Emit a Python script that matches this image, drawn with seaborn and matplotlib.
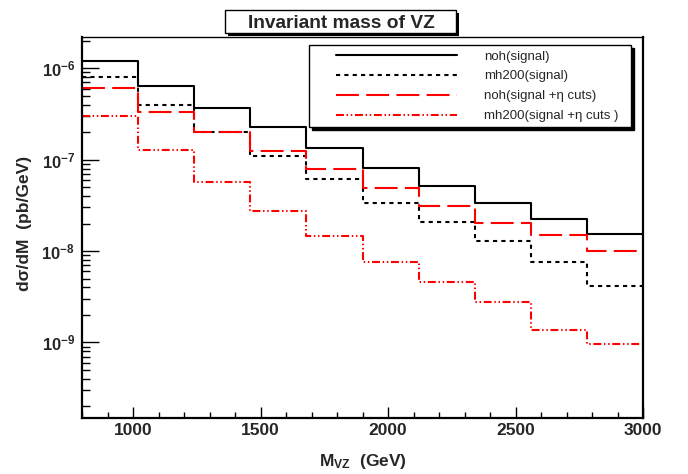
import numpy as np
import pandas as pd
import matplotlib
matplotlib.use("Agg")
import matplotlib.pyplot as plt
import matplotlib.ticker as mticker
from matplotlib.lines import Line2D
from matplotlib.legend_handler import HandlerLine2D
from matplotlib.patches import Rectangle
import seaborn as sns

# bin edges of the M_VZ histograms (GeV)
BIN_EDGES = [800, 1020, 1240, 1460, 1680, 1900, 2120, 2340, 2560, 2780, 3000]

# dsigma/dM per bin (pb/GeV)
NOH_SIGNAL = [1.19e-6, 6.33e-7, 3.71e-7, 2.27e-7, 1.35e-7, 8.1e-8, 5.09e-8, 3.36e-8, 2.26e-8, 1.53e-8]
MH200_SIGNAL = [7.96e-7, 3.94e-7, 2.02e-7, 1.11e-7, 6.12e-8, 3.39e-8, 2.09e-8, 1.28e-8, 7.5e-9, 4.15e-9]
NOH_ETA = [6.02e-7, 3.3e-7, 2.0e-7, 1.26e-7, 7.96e-8, 4.88e-8, 3.11e-8, 2.04e-8, 1.48e-8, 1.01e-8]
MH200_ETA = [2.98e-7, 1.29e-7, 5.72e-8, 2.74e-8, 1.45e-8, 7.5e-9, 4.55e-9, 2.78e-9, 1.38e-9, 9.7e-10]

LABELS = ["noh(signal)", "mh200(signal)", "noh(signal +η cuts)", "mh200(signal +η cuts )"]

sns.set_theme(style="ticks")
plt.rcParams["font.family"] = ["Liberation Sans", "DejaVu Sans"]
plt.rcParams["mathtext.fontset"] = "custom"
plt.rcParams["mathtext.rm"] = "Liberation Sans"
plt.rcParams["mathtext.it"] = "Liberation Sans:italic"
plt.rcParams["mathtext.bf"] = "Liberation Sans:bold"
plt.rcParams["axes.edgecolor"] = "black"

centers = [(a + b) / 2 for a, b in zip(BIN_EDGES[:-1], BIN_EDGES[1:])]
frames = []
for label, vals in zip(LABELS, [NOH_SIGNAL, MH200_SIGNAL, NOH_ETA, MH200_ETA]):
    frames.append(pd.DataFrame({"mass": centers, "xsec": vals, "sample": label}))
df = pd.concat(frames, ignore_index=True)

styles = {
    LABELS[0]: dict(color="black", linestyle="-", lw=1.5),
    LABELS[1]: dict(color="black", linestyle=(0, (2, 2)), lw=1.5),
    LABELS[2]: dict(color="red", linestyle=(0, (11, 3.5)), lw=1.5),
    LABELS[3]: dict(color="red", linestyle=(0, (3.8, 1.3, 0.7, 1.3, 0.7, 1.3)), lw=1.5),
}

fig = plt.figure(figsize=(6.88, 4.74), dpi=100)
ax = fig.add_axes([82 / 688, 1 - 418 / 474, 561 / 688, 381 / 474])

for label in LABELS:
    sns.histplot(data=df[df["sample"] == label], x="mass", weights="xsec",
                 bins=BIN_EDGES, element="step", fill=False, label=label,
                 ax=ax, **styles[label])

ax.set_yscale("log")
ax.set_xlim(800, 3000)
ax.set_ylim(1.49e-10, 2.2e-6)

ax.xaxis.set_major_locator(mticker.MultipleLocator(500))
ax.xaxis.set_minor_locator(mticker.MultipleLocator(100))
ax.yaxis.set_major_locator(mticker.FixedLocator([1e-9, 1e-8, 1e-7, 1e-6]))
ax.yaxis.set_minor_locator(mticker.LogLocator(base=10, subs=np.arange(2, 10), numticks=20))
ax.yaxis.set_major_formatter(mticker.FuncFormatter(
    lambda v, pos: rf"$\mathbf{{10^{{{int(round(np.log10(v)))}}}}}$"))
ax.yaxis.set_minor_formatter(mticker.NullFormatter())

ax.tick_params(axis="both", which="both", direction="in", color="black",
               top=False, right=False, width=1)
ax.tick_params(axis="y", which="major", length=12, pad=5, labelsize=12)
ax.tick_params(axis="y", which="minor", length=6)
ax.tick_params(axis="x", which="major", length=8, pad=3.6, labelsize=12.5)
ax.tick_params(axis="x", which="minor", length=4)
for lab in ax.get_xticklabels():
    lab.set_fontweight("bold")

for side in ["left", "bottom", "right"]:
    ax.spines[side].set_linewidth(1.6)
ax.spines["top"].set_linewidth(1.0)
ax.grid(False)

ax.set_xlabel(r"$\mathbf{M_{VZ}}$  (GeV)", fontsize=12.5, fontweight="bold")
ax.xaxis.set_label_coords(0.5, -0.09)
ax.set_ylabel("dσ/dM  (pb/GeV)", fontsize=12.5, fontweight="bold")
ax.yaxis.set_label_coords(-0.089, 0.51)

handles = [ln for ln in ax.get_lines() if ln.get_label() in LABELS]
leg = ax.legend(handles=handles, labels=LABELS, loc="upper left",
                bbox_to_anchor=(0.405, 0.772, 0.574, 0.207), mode="expand",
                borderaxespad=0, fontsize=9.5, frameon=True, fancybox=False,
                edgecolor="black", framealpha=1, borderpad=0.4,
                labelspacing=0.58, handlelength=12.4, handletextpad=0.45,
                numpoints=2, shadow={"color": "black", "alpha": 1},
                handler_map={Line2D: HandlerLine2D(marker_pad=1.6)})
leg.get_frame().set_linewidth(1.0)

# title box with ROOT-like drop shadow
fig.add_artist(Rectangle((228 / 688, 1 - 36 / 474), 231 / 688, 23 / 474,
                         transform=fig.transFigure, facecolor="black",
                         edgecolor="black", lw=0))
fig.add_artist(Rectangle((225 / 688, 1 - 33 / 474), 231 / 688, 23 / 474,
                         transform=fig.transFigure, facecolor="white",
                         edgecolor="black", lw=1.0))
fig.text(341 / 688, 1 - 28 / 474, "Invariant mass of VZ", ha="center",
         va="baseline", fontsize=13.8, fontweight="bold")

fig.savefig("out.png", dpi=100)
